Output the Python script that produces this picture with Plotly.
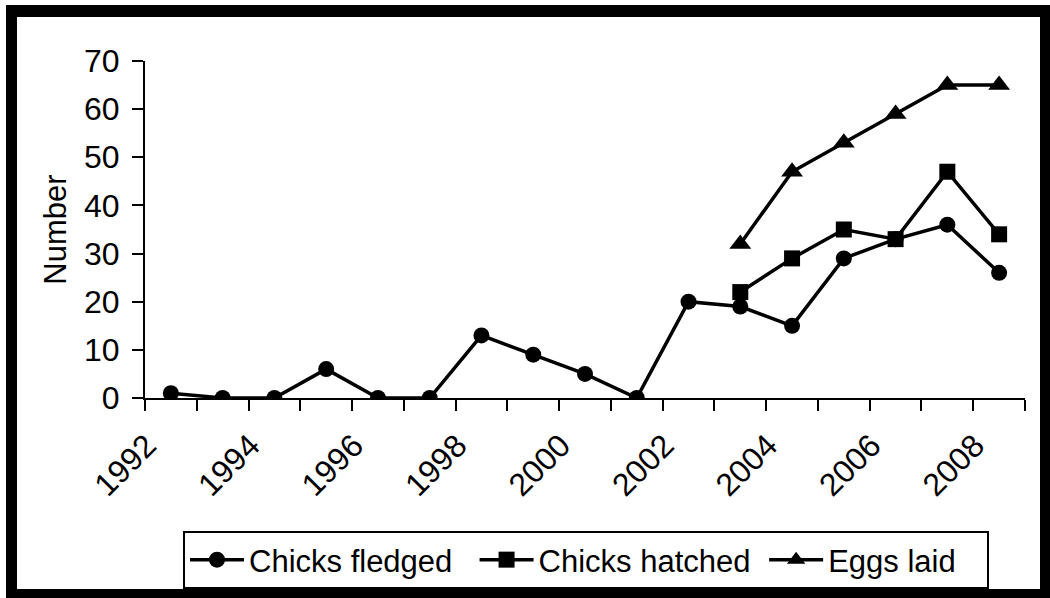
import plotly.graph_objects as go

years = list(range(1992, 2009))
fledged = [1, 0, 0, 6, 0, 0, 13, 9, 5, 0, 20, 19, 15, 29, 33, 36, 26]
years_late = list(range(2003, 2009))
hatched = [22, 29, 35, 33, 47, 34]
eggs = [32, 47, 53, 59, 65, 65]
tick_years = list(range(1992, 2009, 2))
tick_labels = [str(y) for y in tick_years]
series_names = ["Chicks fledged", "Chicks hatched", "Eggs laid"]

FONT = "Liberation Sans, Arial, sans-serif"
NB = "\u00a0"
pads = [2, 1, 3]  # legend spacing (non-breaking spaces after each name)

fig = go.Figure()
line = dict(color="black", width=3.5)
fig.add_trace(go.Scatter(x=years, y=fledged, mode="lines+markers", name=series_names[0] + NB * pads[0],
                         line=line, marker=dict(symbol="circle", size=16, color="black")))
fig.add_trace(go.Scatter(x=years_late, y=hatched, mode="lines+markers", name=series_names[1] + NB * pads[1],
                         line=line, marker=dict(symbol="square", size=16, color="black")))
fig.add_trace(go.Scatter(x=years_late, y=eggs, mode="lines+markers", name=series_names[2] + NB * pads[2],
                         line=line, marker=dict(symbol="triangle-up", size=19, color="black")))

W, H = 1050, 598
L, R, T, B = 145, 1025, 61, 398


def px(p):
    return (p - L) / (R - L)


def py(q):
    return (B - q) / (B - T)


shapes = []
for (x0, y0, x1, y1) in [(6, 5, 1050, 17), (6, 5, 17, 598), (1040, 5, 1050, 598), (6, 589, 1050, 598)]:
    shapes.append(dict(type="rect", xref="paper", yref="paper",
                       x0=px(x0), x1=px(x1), y0=py(y0), y1=py(y1),
                       fillcolor="black", line=dict(width=0), layer="above"))

fig.update_layout(
    width=W, height=H,
    margin=dict(l=L, r=W - R, t=T, b=H - B, autoexpand=False),
    paper_bgcolor="white", plot_bgcolor="white",
    font=dict(family=FONT, size=32, color="black"),
    showlegend=True,
    legend=dict(orientation="h", x=px(183), y=py(531), xanchor="left", yanchor="top",
                bordercolor="black", borderwidth=2, bgcolor="white",
                font=dict(size=31), itemwidth=54),
    shapes=shapes,
    xaxis=dict(range=[1991.5, 2008.5], tickmode="array", tickvals=tick_years, ticktext=tick_labels,
               tickangle=-45, ticks="outside", ticklen=10, tickcolor="rgba(0,0,0,0)",
               ticklabelshift=-24, ticklabelstandoff=4,
               showline=True, linecolor="black", linewidth=2, showgrid=False, zeroline=False,
               minor=dict(tickmode="linear", tick0=1991.5, dtick=1, ticks="outside", ticklen=11,
                          tickcolor="black", tickwidth=2, showgrid=False),
               tickfont=dict(size=32)),
    yaxis=dict(range=[0, 70], dtick=10, ticks="outside", ticklen=11, tickcolor="black", tickwidth=2,
               ticklabelstandoff=6,
               showline=True, linecolor="black", linewidth=2, showgrid=False, zeroline=False,
               title=dict(text="Number", font=dict(size=31), standoff=8),
               tickfont=dict(size=32)),
)

fig.write_html("out.html", config={"displayModeBar": False},
               post_script="document.body.style.margin='0px';")
